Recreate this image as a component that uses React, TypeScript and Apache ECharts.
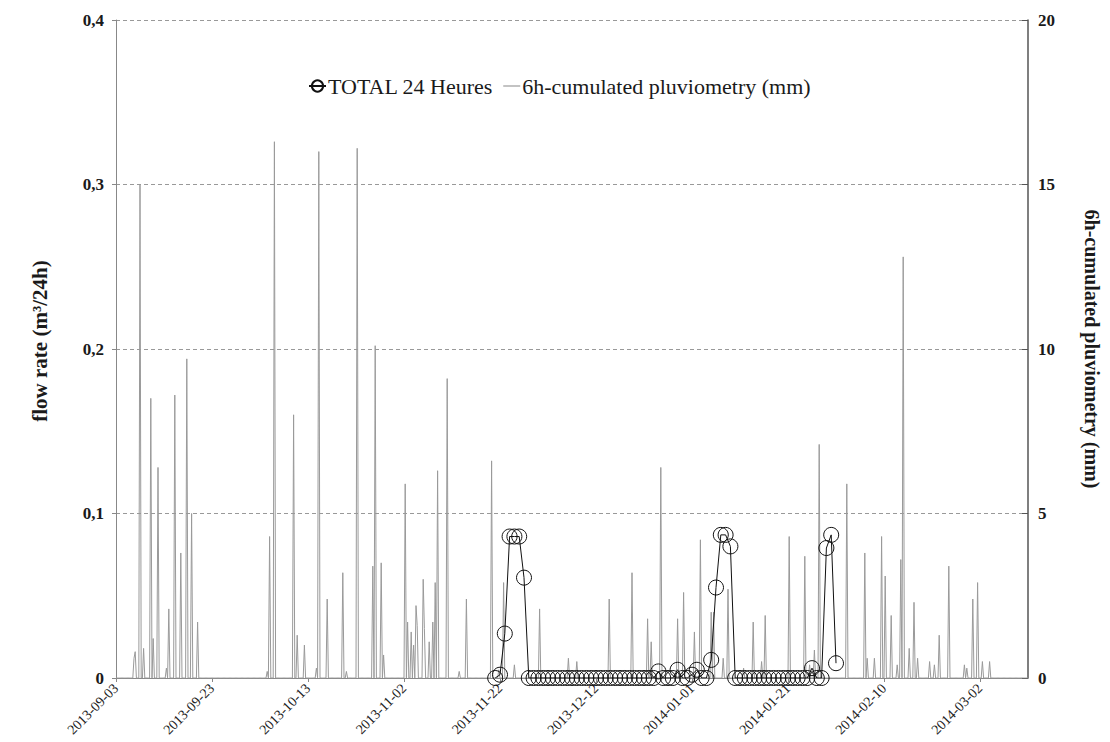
import React, { useEffect, useRef } from "react";
import * as echarts from "echarts";

// Day 0 of the horizontal axis
const START_UTC = Date.UTC(2013, 8, 3);
const DAY_MS = 86400000;
const X_MAX_DAYS = 190;
const X_STEP_DAYS = 20;

// 6h-cumulated rainfall events: offset in days from 2013-09-03 and amount (mm)
const rainDays = [
  3.75, 4.0, 5.0, 5.75, 7.25, 7.75, 8.75, 10.5, 11.0, 12.25, 13.5, 14.75, 15.75, 17.0,
  31.5, 32.0, 33.0, 37.0, 37.75, 39.25, 41.75, 42.25, 44.0, 47.25, 48.0, 50.25,
  53.5, 54.0, 55.25, 55.75, 60.25, 60.75, 61.5, 62.0, 62.5, 62.75, 64.0, 64.25,
  65.25, 66.0, 66.5, 67.0, 69.0, 71.5, 73.0, 78.25, 79.75, 80.75, 83.0, 88.25,
  94.25, 96.0, 102.75, 107.5, 110.75, 111.5, 113.5, 117.0, 118.25, 120.5, 121.75,
  124.0, 124.5, 126.5, 127.5, 130.75, 132.75, 134.5, 135.25, 140.25, 143.5, 144.5,
  145.5, 146.5, 152.25, 156.0, 156.5, 158.0, 159.5, 160.25, 161.5, 162.75, 163.5,
  164.0, 165.25, 166.25, 167.0, 169.5, 170.5, 171.5, 173.5, 176.75, 177.25, 178.5,
  179.5, 180.5, 182.0,
];
const rainMm = [
  0.6, 0.8, 15.0, 0.9, 8.5, 1.2, 6.4, 0.3, 2.1, 8.6, 3.8, 9.7, 5.0, 1.7,
  0.2, 4.3, 16.3, 8.0, 1.3, 1.0, 0.3, 16.0, 2.4, 3.2, 0.2, 16.1,
  3.4, 10.1, 3.5, 0.7, 5.9, 1.7, 1.4, 1.0, 2.2, 1.6, 3.0, 1.5,
  1.1, 1.7, 2.9, 6.3, 9.1, 0.2, 2.4, 6.6, 0.25, 2.9, 0.4, 2.1,
  0.6, 0.5, 2.4, 3.2, 1.8, 1.1, 6.4, 1.8, 2.6, 1.4, 4.2,
  2.0, 2.0, 0.6, 2.7, 0.3, 1.7, 0.5, 1.9, 4.3, 3.7, 0.4,
  0.85, 7.1, 5.9, 3.8, 0.6, 0.6, 4.3, 3.1, 1.9, 0.4, 3.6,
  12.8, 0.9, 2.3, 0.6, 0.5, 0.4, 1.3, 3.4, 0.4, 0.3, 2.4,
  2.9, 0.5, 0.5,
];

// Daily flow rate (m3/24h): offset in days and value
const totalDays = [
  79, 80, 81, 82, 83, 84, 85, 86, 87, 88, 89, 90, 91, 92, 93, 94, 95, 96, 97, 98,
  99, 100, 101, 102, 103, 104, 105, 106, 107, 108, 109, 110, 111, 112, 113, 114,
  115, 116, 117, 118, 119, 120, 121, 122, 123, 124, 125, 126, 127, 128, 129, 130,
  131, 132, 133, 134, 135, 136, 137, 138, 139, 140, 141, 142, 143, 144, 145, 146,
  147, 148, 149, 150,
];
const totalFlow = [
  0, 0.002, 0.027, 0.086, 0.086, 0.086, 0.061, 0, 0, 0, 0, 0, 0, 0, 0, 0, 0, 0, 0, 0,
  0, 0, 0, 0, 0, 0, 0, 0, 0, 0, 0, 0, 0, 0, 0.004, 0,
  0, 0, 0.005, 0, 0, 0.002, 0.005, 0, 0, 0.011, 0.055, 0.087, 0.087, 0.080, 0, 0,
  0, 0, 0, 0, 0, 0, 0, 0, 0, 0, 0, 0, 0, 0, 0.006, 0,
  0, 0.079, 0.087, 0.009,
];

const SERIF = "'Liberation Serif', 'DejaVu Serif', serif";
const INK = "#1a1a1a";

function dayLabel(d: number): string {
  const dt = new Date(START_UTC + d * DAY_MS);
  const mm = String(dt.getUTCMonth() + 1).padStart(2, "0");
  const dd = String(dt.getUTCDate()).padStart(2, "0");
  return `${dt.getUTCFullYear()}-${mm}-${dd}`;
}

// Rainfall on a 6-hour grid: zero between recorded events
function buildRain(): [number, number][] {
  const steps = X_MAX_DAYS * 4;
  const vals = new Array(steps + 1).fill(0);
  rainDays.forEach((d, i) => {
    vals[Math.round(d * 4)] = rainMm[i];
  });
  return vals.map((v, i) => [i / 4, v]);
}

export default function App() {
  const ref = useRef<HTMLDivElement>(null);

  useEffect(() => {
    if (!ref.current) return;
    const chart = echarts.init(ref.current, null, { renderer: "svg" });

    const rain = buildRain();
    const total = totalDays.map((d, i) => [d, totalFlow[i]]);

    chart.setOption({
      animation: false,
      backgroundColor: "#ffffff",
      grid: { left: 116, right: 70, top: 20, bottom: 64, containLabel: false },
      legend: {
        left: 303,
        top: 70,
        itemGap: 10,
        itemWidth: 17,
        itemHeight: 14,
        textStyle: { fontFamily: SERIF, fontSize: 22, color: INK, padding: [0, 0, 0, -3] },
        data: [
          { name: "TOTAL 24 Heures" },
          {
            name: "6h-cumulated pluviometry (mm)",
            icon: "path://M0,0 H20 V1.2 H0 Z",
            itemStyle: { color: "#8a8a8a" },
          },
        ],
      },
      xAxis: {
        type: "value",
        min: 0,
        max: X_MAX_DAYS,
        interval: X_STEP_DAYS,
        axisLine: { show: true, lineStyle: { color: "#888", width: 1 } },
        axisTick: { show: true, length: 4, lineStyle: { color: "#888" } },
        splitLine: { show: false },
        axisLabel: {
          rotate: 45,
          margin: 8,
          showMaxLabel: false,
          fontFamily: SERIF,
          fontSize: 14,
          color: "#222",
          formatter: (v: number) => dayLabel(v),
        },
      },
      yAxis: [
        {
          type: "value",
          min: 0,
          max: 0.4,
          interval: 0.1,
          name: "flow rate (m³/24h)",
          nameLocation: "middle",
          nameGap: 66,
          nameTextStyle: {
            fontFamily: SERIF,
            fontSize: 21,
            fontWeight: "bold",
            color: INK,
            padding: [0, 0, 0, 16],
          },
          axisLine: { show: true, lineStyle: { color: "#888", width: 1 } },
          axisTick: { show: true, length: 4, lineStyle: { color: "#888" } },
          splitLine: { show: true, lineStyle: { color: "#999", type: [4, 3], width: 1 } },
          axisLabel: {
            margin: 12,
            fontFamily: SERIF,
            fontSize: 17,
            fontWeight: "bold",
            color: INK,
            formatter: (v: number) => (v === 0 ? "0" : v.toFixed(1).replace(".", ",")),
          },
        },
        {
          type: "value",
          min: 0,
          max: 20,
          interval: 5,
          position: "right",
          name: "6h-cumulated pluviometry (mm)",
          nameLocation: "middle",
          nameRotate: -90,
          nameGap: 54,
          nameTextStyle: { fontFamily: SERIF, fontSize: 20, fontWeight: "bold", color: INK },
          axisLine: { show: true, lineStyle: { color: "#555", width: 1.5 } },
          axisTick: { show: true, inside: true, length: 6, lineStyle: { color: "#555" } },
          splitLine: { show: false },
          axisLabel: {
            margin: 10,
            fontFamily: SERIF,
            fontSize: 17,
            fontWeight: "bold",
            color: INK,
          },
        },
      ],
      series: [
        {
          name: "6h-cumulated pluviometry (mm)",
          type: "line",
          yAxisIndex: 1,
          data: rain,
          showSymbol: false,
          symbol: "none",
          lineStyle: { color: "#9a9a9a", width: 1 },
          itemStyle: { color: "#9a9a9a" },
          z: 2,
        },
        {
          name: "TOTAL 24 Heures",
          type: "line",
          yAxisIndex: 0,
          data: total,
          symbol: "circle",
          symbolSize: 15,
          showAllSymbol: true,
          lineStyle: { color: "#111", width: 1 },
          itemStyle: { color: "rgba(255,255,255,0)", borderColor: "#111", borderWidth: 1 },
          z: 3,
        },
      ],
    });

    return () => chart.dispose();
  }, []);

  return (
    <div
      ref={ref}
      style={{ position: "fixed", left: 0, top: 0, width: 1110, height: 742, background: "#fff" }}
    />
  );
}
